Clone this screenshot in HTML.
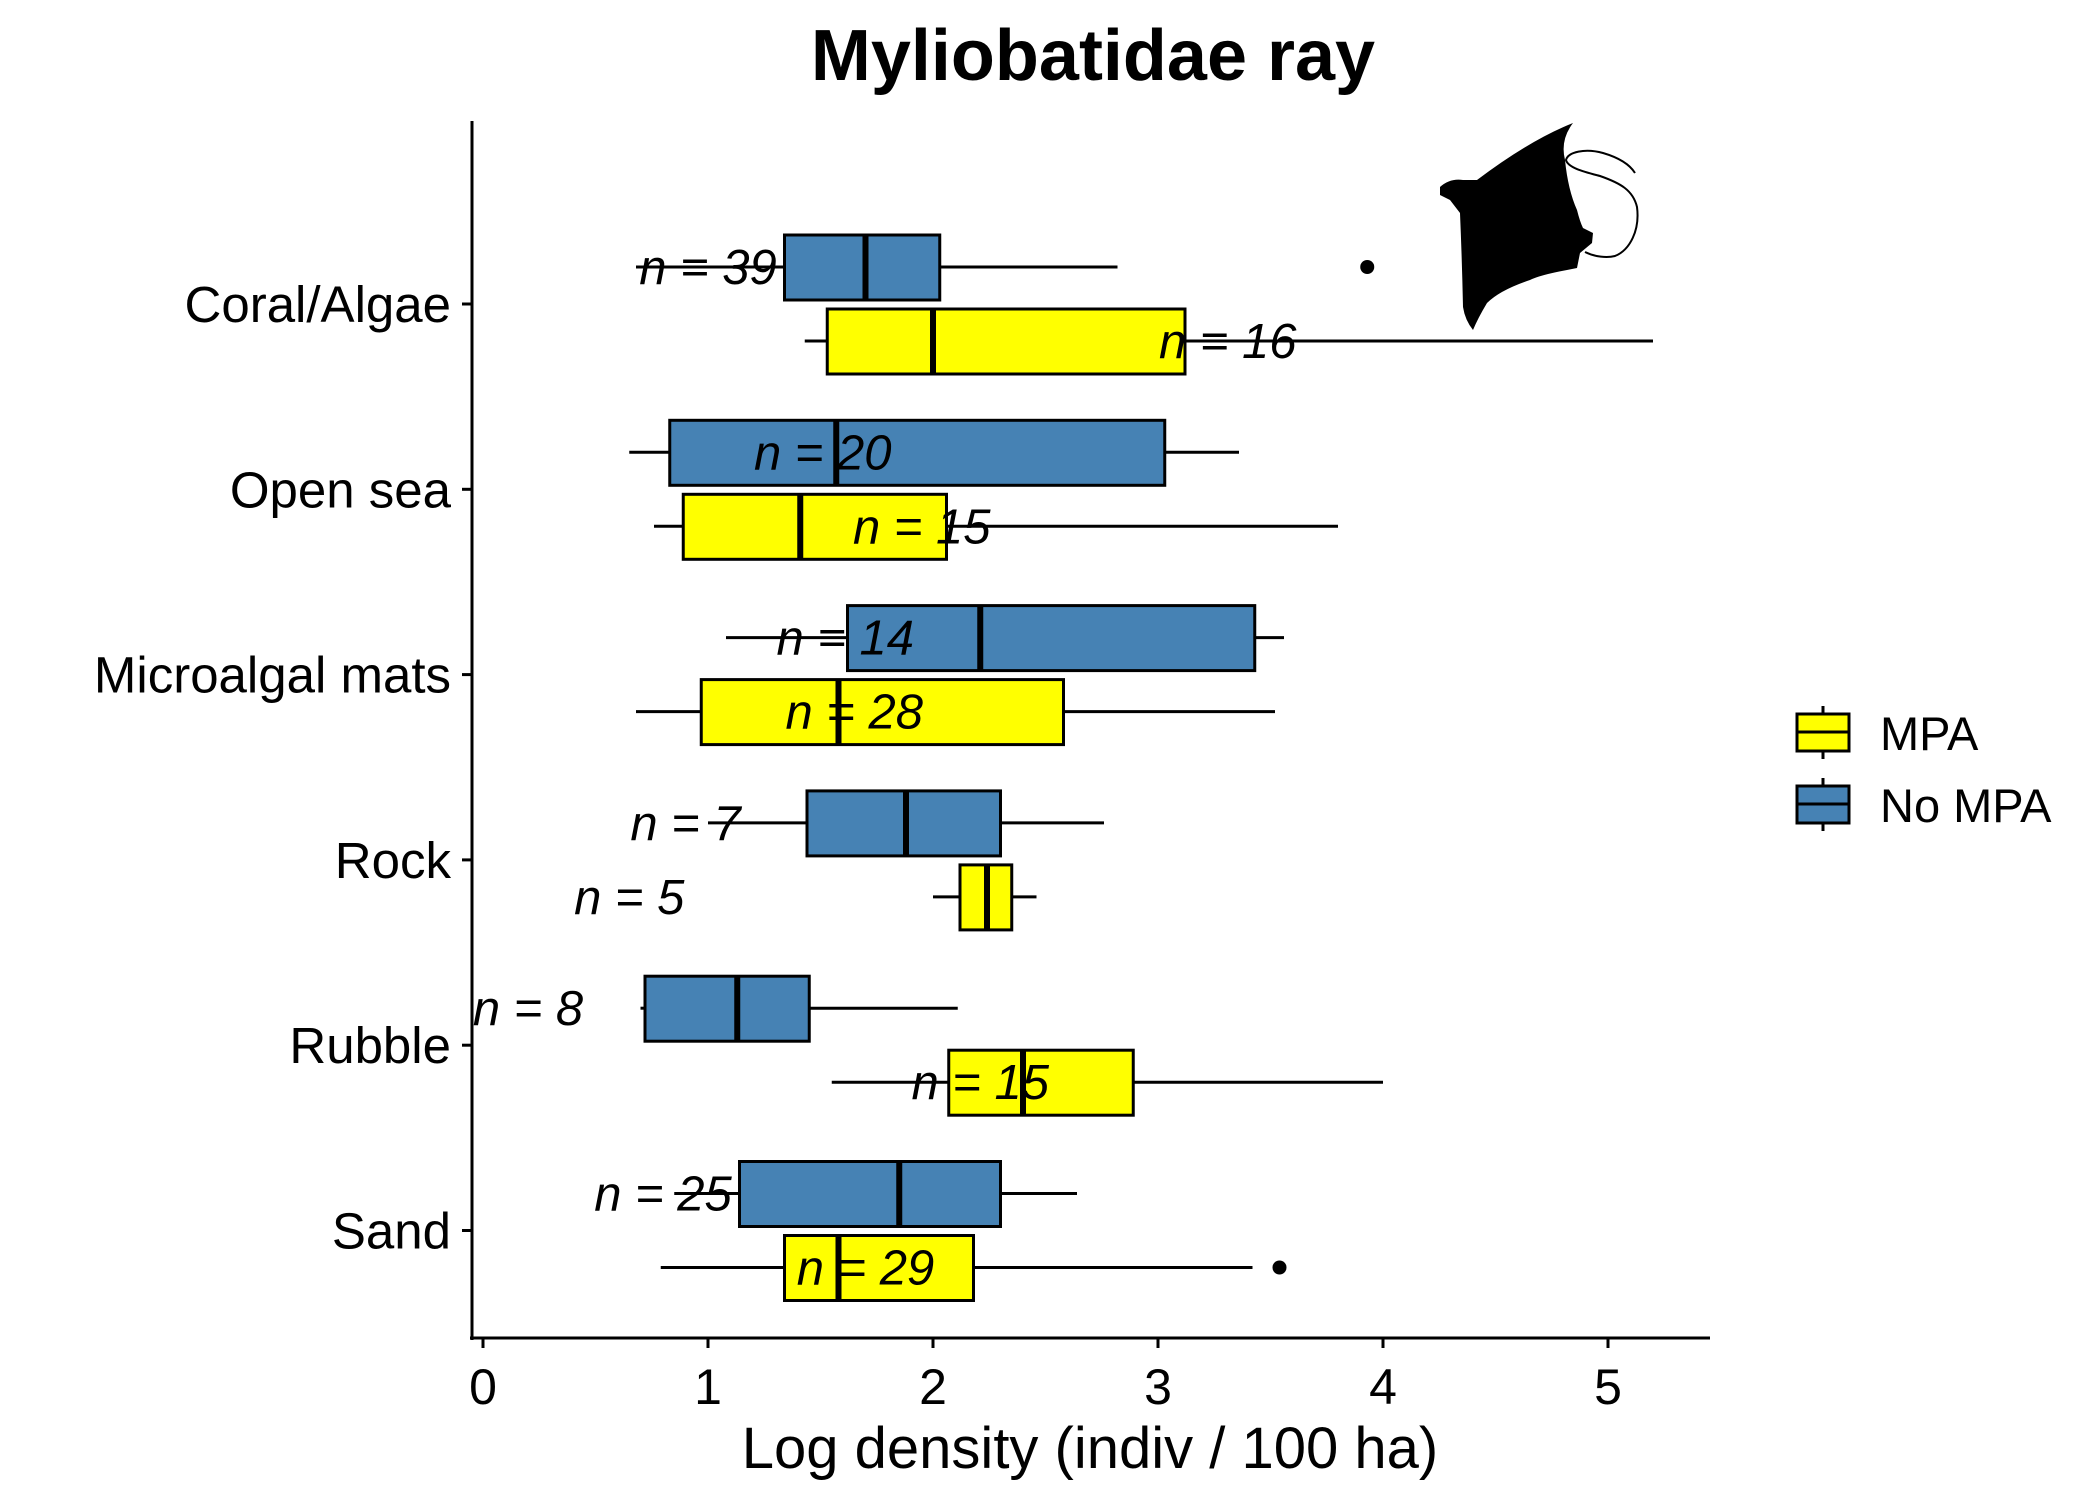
<!DOCTYPE html>
<html><head><meta charset="utf-8"><style>
html,body{margin:0;padding:0;background:#fff}
svg{display:block;font-family:"Liberation Sans",Arial,sans-serif}
</style></head><body>
<svg id="chart" width="2100" height="1500" viewBox="0 0 2100 1500">
<text x="1093" y="80" text-anchor="middle" font-size="72" font-weight="bold">Myliobatidae ray</text>
<g id="plot"></g>
<g>
<path d="M1440,187 Q1450,178 1463,180 L1477,180 Q1530,140 1573,123 Q1560,140 1565,160 Q1568,190 1577,210 Q1580,222 1583,228 L1593,233 L1592,243 L1580,253 L1577,268 L1567,270 Q1540,275 1530,280 Q1500,290 1487,303 Q1478,318 1473,330 Q1465,320 1463,307 Q1462,260 1460,213 L1450,200 L1440,195 Z" fill="#000"/>
<path d="M1585,252 C1595,257 1607,258 1615,256 C1630,250 1640,230 1637,207 C1633,190 1620,183 1600,176 C1585,172 1568,168 1566,160 C1568,152 1585,148 1603,153 C1620,158 1630,165 1635,173" fill="none" stroke="#000" stroke-width="2"/>
</g>
<g>
<g>
<line x1="1823" y1="706" x2="1823" y2="759" stroke="#000" stroke-width="3"/>
<rect x="1797" y="714" width="52" height="37" fill="#ffff00" stroke="#000" stroke-width="3"/>
<line x1="1797" y1="732" x2="1849" y2="732" stroke="#000" stroke-width="3"/>
<text x="1880" y="750" font-size="47">MPA</text>
</g>
<g>
<line x1="1823" y1="778" x2="1823" y2="831" stroke="#000" stroke-width="3"/>
<rect x="1797" y="786" width="52" height="37" fill="#4682b4" stroke="#000" stroke-width="3"/>
<line x1="1797" y1="804" x2="1849" y2="804" stroke="#000" stroke-width="3"/>
<text x="1880" y="822" font-size="47">No MPA</text>
</g>
</g>
</svg>
<script>
const categories = ["Coral/Algae","Open sea","Microalgal mats","Rock","Rubble","Sand"];
const xTicks = [0,1,2,3,4,5];
// [whiskerLow, q1, median, q3, whiskerHigh]
const noMpaStats = [[0.68,1.34,1.70,2.03,2.82],[0.65,0.83,1.57,3.03,3.36],[1.08,1.62,2.21,3.43,3.56],[1.0,1.44,1.88,2.30,2.76],[0.70,0.72,1.13,1.45,2.11],[0.85,1.14,1.85,2.30,2.64]];
const mpaStats = [[1.43,1.53,2.00,3.12,5.20],[0.76,0.89,1.41,2.06,3.80],[0.68,0.97,1.58,2.58,3.52],[2.00,2.12,2.24,2.35,2.46],[1.55,2.07,2.40,2.89,4.00],[0.79,1.34,1.58,2.18,3.42]];
const noMpaOutliers = [[3.93],[],[],[],[],[]];
const mpaOutliers = [[],[],[],[],[],[3.54]];
const noMpaN = [39,20,14,7,8,25];
const mpaN = [16,15,28,5,15,29];
const noMpaLabelX = [1.0,1.51,1.61,0.9,0.2,0.80];
const mpaLabelX = [3.31,1.95,1.65,0.65,2.21,1.70];

const NS="http://www.w3.org/2000/svg";
const g=document.getElementById('plot');
const xs=v=>483+v*225;
const yc=i=>304+i*185.3;
function mk(tag,attrs,parent){const e=document.createElementNS(NS,tag);for(const k in attrs)e.setAttribute(k,attrs[k]);(parent||g).appendChild(e);return e;}

const ax=mk('line',{x1:472,y1:121,x2:472,y2:1340,stroke:'#000','stroke-width':3});


const bx=mk('line',{x1:470,y1:1338,x2:1710,y2:1338,stroke:'#000','stroke-width':3});


xTicks.forEach(t=>{
  const tk=mk('line',{x1:xs(t),y1:1338,x2:xs(t),y2:1348,stroke:'#000','stroke-width':3});
  
  
  const tl=mk('text',{x:xs(t),y:1404,'text-anchor':'middle','font-size':50});
  
  
  tl.textContent=t;
});
const xt=mk('text',{x:1090,y:1468,'text-anchor':'middle','font-size':58});


xt.textContent='Log density (indiv / 100 ha)';
categories.forEach((c,i)=>{
  const tk=mk('line',{x1:462,y1:yc(i),x2:472,y2:yc(i),stroke:'#000','stroke-width':3});
  
  
  const tl=mk('text',{x:451,y:yc(i)+18,'text-anchor':'end','font-size':51});
  
  
  tl.textContent=c;
});
function box(st,outs,yC,fill,name){
  const grp=mk('g',{});
  
  
  mk('line',{x1:xs(st[0]),y1:yC,x2:xs(st[1]),y2:yC,stroke:'#000','stroke-width':3},grp);
  mk('line',{x1:xs(st[3]),y1:yC,x2:xs(st[4]),y2:yC,stroke:'#000','stroke-width':3},grp);
  mk('rect',{x:xs(st[1]),y:yC-32,width:xs(st[3])-xs(st[1]),height:65,fill:fill,stroke:'#000','stroke-width':3},grp);
  mk('line',{x1:xs(st[2]),y1:yC-32,x2:xs(st[2]),y2:yC+33,stroke:'#000','stroke-width':6},grp);
  outs.forEach(o=>{const c=mk('circle',{cx:xs(o),cy:yC,r:7,fill:'#000'},grp);
    
    });
}
function lab(n,xv,yC,name){
  const t=mk('text',{x:xs(xv),y:yC+17,'text-anchor':'middle','font-size':49,'font-style':'italic'});
  
  
  t.textContent='n = '+n;
}
categories.forEach((c,i)=>{
  box(noMpaStats[i],noMpaOutliers[i],yc(i)-37,'#4682b4','box-no-mpa');
  box(mpaStats[i],mpaOutliers[i],yc(i)+37,'#ffff00','box-mpa');
});
categories.forEach((c,i)=>{
  lab(noMpaN[i],noMpaLabelX[i],yc(i)-37,'n-label-no-mpa');
  lab(mpaN[i],mpaLabelX[i],yc(i)+37,'n-label-mpa');
});
</script>
</body></html>
